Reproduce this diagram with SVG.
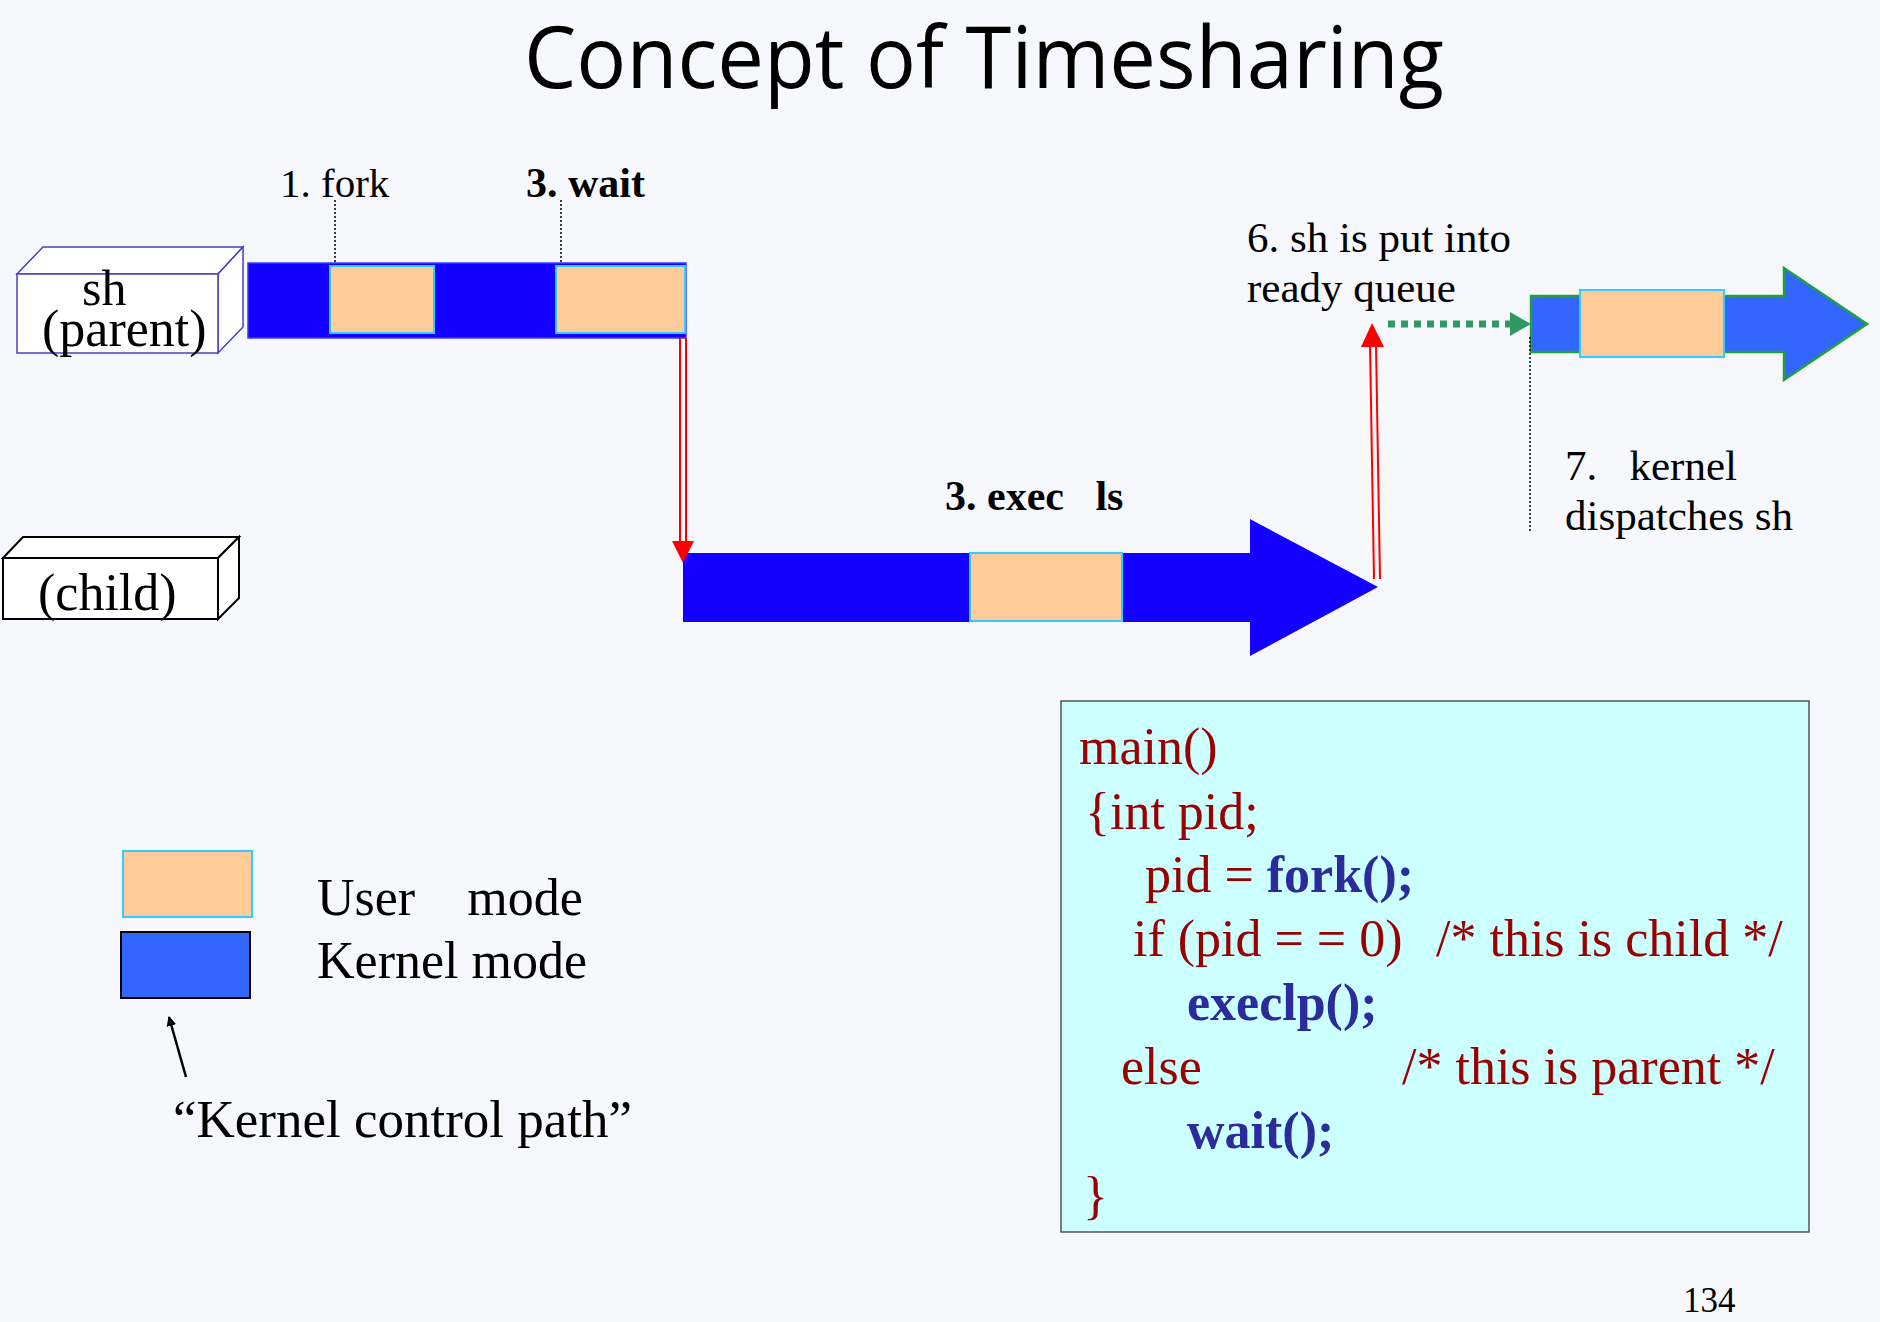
<svg xmlns="http://www.w3.org/2000/svg" width="1880" height="1322" viewBox="0 0 1880 1322">
<style>
.t{font-family:"Liberation Serif","Times New Roman",serif;fill:#000}
.b{font-weight:bold}
.red{fill:#990000}
.blu{fill:#2b2b9c;font-weight:bold}
.user{fill:#ffcc99;stroke:#33ccff;stroke-width:2}
.kbar{fill:#1400ff;stroke:#3a3aff;stroke-width:1.5}
.lead{stroke:#000;stroke-width:1.5;stroke-dasharray:2 2;fill:none}
.redl{stroke:#ff0000;stroke-width:2;fill:none}
</style>
<defs>
<marker id="ah" markerWidth="10" markerHeight="10" refX="9" refY="5" orient="auto" markerUnits="userSpaceOnUse" viewBox="0 0 10 10"><path d="M0,0 L10,5 L0,10 Z" fill="#000"/></marker>
</defs>
<rect x="0" y="0" width="1880" height="1322" fill="#f6f8fd"/>
<text x="984" y="88" text-anchor="middle" font-family="'Open Sans','Noto Sans',sans-serif" font-size="86" textLength="920" lengthAdjust="spacingAndGlyphs" fill="#000">Concept of Timesharing</text>

<g id="parent-box">
<polygon points="17,274 43,247 243,247 218,274" fill="#ffffff" stroke="#4a3fc0" stroke-width="1.5"/>
<polygon points="218,274 243,247 243,327 218,353" fill="#ffffff" stroke="#4a3fc0" stroke-width="1.5"/>
<rect x="17" y="274" width="201" height="79" fill="#ffffff" stroke="#4a3fc0" stroke-width="1.5"/>
<text class="t" x="82" y="305" font-size="50">sh</text>
<text class="t" x="42" y="346" font-size="52">(parent)</text>
</g>

<g id="child-box">
<polygon points="3,558 23,537 239,537 218,558" fill="#ffffff" stroke="#000" stroke-width="2"/>
<polygon points="218,558 239,537 239,598 218,619" fill="#ffffff" stroke="#000" stroke-width="2"/>
<rect x="3" y="558" width="215" height="61" fill="#ffffff" stroke="#000" stroke-width="2"/>
<text class="t" x="38" y="610" font-size="52">(child)</text>
</g>

<g id="sh-timeline">
<rect class="kbar" x="248" y="263" width="438" height="75"/>
<rect class="user" x="330" y="266" width="104" height="67"/>
<rect class="user" x="556" y="266" width="129" height="67"/>
<text class="t" x="280" y="197" font-size="41">1. fork</text>
<text class="t b" x="526" y="197" font-size="42">3. wait</text>
</g>

<g id="child-timeline">
<polygon points="683,553 1250,553 1250,519 1378,587 1250,656 1250,622 683,622" fill="#1400ff"/>
<rect class="user" x="970" y="553" width="152" height="68"/>
<text class="t b" x="945" y="510" font-size="42" xml:space="preserve">3. exec   ls</text>
</g>

<g id="ready-queue">
<polygon points="1531,296 1784,296 1784,268 1867,324 1784,380 1784,352 1531,352" fill="#3366ff" stroke="#22a03a" stroke-width="2.5"/>
<rect class="user" x="1580" y="290" width="144" height="67"/>
<text class="t" x="1247" y="252" font-size="43">6. sh is put into</text>
<text class="t" x="1247" y="302" font-size="43">ready queue</text>
<text class="t" x="1565" y="480" font-size="43" xml:space="preserve">7.   kernel</text>
<text class="t" x="1565" y="530" font-size="43">dispatches sh</text>
</g>

<g id="legend">
<rect class="user" x="123" y="851" width="129" height="66"/>
<rect x="121" y="932" width="129" height="66" fill="#3366ff" stroke="#000" stroke-width="2"/>
<text class="t" x="317" y="915" font-size="52" xml:space="preserve">User    mode</text>
<text class="t" x="317" y="978" font-size="52">Kernel mode</text>
<text class="t" x="173" y="1137" font-size="53">“Kernel control path”</text>
</g>

<g id="code-box">
<rect x="1061" y="701" width="748" height="531" fill="#ccffff" stroke="#555555" stroke-width="1.5"/>
<text class="t red" x="1079" y="764" font-size="52">main()</text>
<text class="t red" x="1085" y="829" font-size="52">{int pid;</text>
<text class="t red" x="1145" y="892" font-size="52">pid = <tspan class="blu">fork();</tspan></text>
<text class="t red" x="1133" y="956" font-size="52">if (pid = = 0)</text>
<text class="t red" x="1436" y="956" font-size="52">/* this is child */</text>
<text class="t blu" x="1187" y="1020" font-size="52">execlp();</text>
<text class="t red" x="1121" y="1084" font-size="52">else</text>
<text class="t red" x="1402" y="1084" font-size="52">/* this is parent */</text>
<text class="t blu" x="1187" y="1148" font-size="52">wait();</text>
<text class="t red" x="1083" y="1213" font-size="52">}</text>
</g>

<text class="t" x="1683" y="1312" font-size="35">134</text>

<g id="connectors">
<line class="lead" x1="335" y1="200" x2="335" y2="263"/>
<line class="lead" x1="561" y1="200" x2="561" y2="263"/>
<line class="lead" x1="1530" y1="337" x2="1530" y2="532"/>
<line class="redl" x1="680" y1="338" x2="680" y2="545"/>
<line class="redl" x1="686" y1="338" x2="686" y2="545"/>
<polygon points="672,541 694,541 683,563" fill="#ff0000"/>
<line class="redl" x1="1374" y1="579" x2="1370" y2="345"/>
<line class="redl" x1="1380" y1="579" x2="1376" y2="345"/>
<polygon points="1361,347 1384,347 1372,323" fill="#ff0000"/>
<line x1="1388" y1="324" x2="1512" y2="324" stroke="#2e9960" stroke-width="7" stroke-dasharray="7 6"/>
<polygon points="1510,312 1531,324 1510,336" fill="#2e9960"/>
<line x1="186" y1="1077" x2="169" y2="1017" stroke="#000" stroke-width="2.5" marker-end="url(#ah)"/>
</g>
</svg>
